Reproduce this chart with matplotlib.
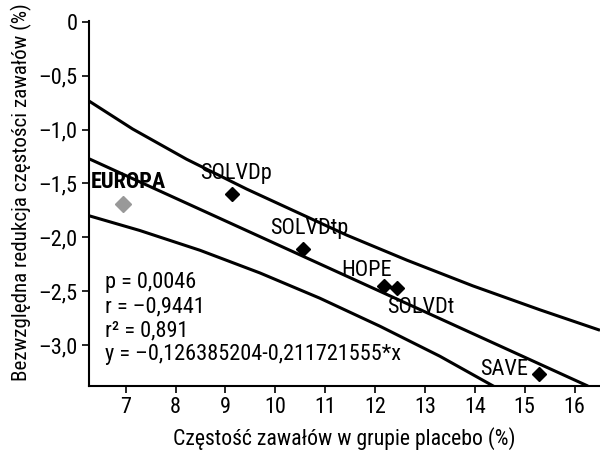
import matplotlib
matplotlib.use('Agg')
import matplotlib.pyplot as plt
from matplotlib.ticker import FuncFormatter

plt.rcParams['font.family'] = ['Roboto Condensed', 'DejaVu Sans']

# badania
studies = ['SOLVDp', 'SOLVDtp', 'HOPE', 'SOLVDt', 'SAVE']
placebo_rate = [9.13, 10.55, 12.18, 12.44, 15.29]
abs_reduction = [-1.60, -2.11, -2.45, -2.47, -3.27]

europa_x = 6.95
europa_y = -1.69

# linia regresji i przedziały ufności
fit_x = [6.26, 16.27]
fit_y = [-1.27, -3.38]
upper_x = [6.26, 7.14, 8.22, 9.43, 11.43, 12.64, 13.96, 15.31, 16.51]
upper_y = [-0.734, -0.995, -1.275, -1.553, -1.979, -2.212, -2.45, -2.673, -2.862]
lower_x = [6.26, 7.28, 8.49, 9.69, 10.89, 12.10, 13.30, 14.38]
lower_y = [-1.799, -1.936, -2.12, -2.33, -2.564, -2.825, -3.103, -3.382]

xticks = [7, 8, 9, 10, 11, 12, 13, 14, 15, 16]
yticks = [0, -0.5, -1.0, -1.5, -2.0, -2.5, -3.0]

stats_text = 'p = 0,0046\nr = \u20130,9441\nr\u00b2 = 0,891\ny = \u20130,126385204-0,211721555*x'

fig = plt.figure(figsize=(6, 4.5), dpi=100)
ax = fig.add_axes([0.148, 0.142, 0.852, 0.812])

ax.plot(upper_x, upper_y, color='black', lw=2.2, solid_capstyle='butt', solid_joinstyle='round')
ax.plot(fit_x, fit_y, color='black', lw=2.2, solid_capstyle='butt')
ax.plot(lower_x, lower_y, color='black', lw=2.2, solid_capstyle='butt', solid_joinstyle='round')

ax.plot(placebo_rate, abs_reduction, 'D', color='black', ms=7.5, ls='none')
ax.plot([europa_x], [europa_y], 'D', color='#999999', ms=8, ls='none')

# etykiety
fs = 16
ax.text(6.30, -1.49, 'EUROPA', fontsize=fs, fontweight='bold', ha='left', va='center')
ax.text(9.22, -1.41, studies[0], fontsize=fs, ha='center', va='center')
ax.text(10.69, -1.92, studies[1], fontsize=fs, ha='center', va='center')
ax.text(11.83, -2.31, studies[2], fontsize=fs, ha='center', va='center')
ax.text(12.91, -2.65, studies[3], fontsize=fs, ha='center', va='center')
ax.text(14.58, -3.23, studies[4], fontsize=fs, ha='center', va='center')

ax.text(6.58, -2.32, stats_text, fontsize=fs, ha='left', va='top', linespacing=1.2)

ax.set_xlim(6.26, 16.51)
ax.set_ylim(-3.38, 0.01)
ax.set_xticks(xticks)
ax.set_yticks(yticks)
ax.yaxis.set_major_formatter(FuncFormatter(
    lambda v, p: '0' if v == 0 else ('%.1f' % v).replace('-', '\u2013').replace('.', ',')))

for s in ['top', 'right']:
    ax.spines[s].set_visible(False)
for s in ['left', 'bottom']:
    ax.spines[s].set_linewidth(1.5)
ax.tick_params(direction='out', length=5, width=1.2, labelsize=fs, pad=3)

ax.set_xlabel('Częstość zawałów w grupie placebo (%)', fontsize=15.7, labelpad=6)
ax.set_ylabel('Bezwzględna redukcja częstości zawałów (%)', fontsize=15.1)
ax.yaxis.set_label_coords(-0.112, 0.53)

fig.savefig('out.png', dpi=100)
